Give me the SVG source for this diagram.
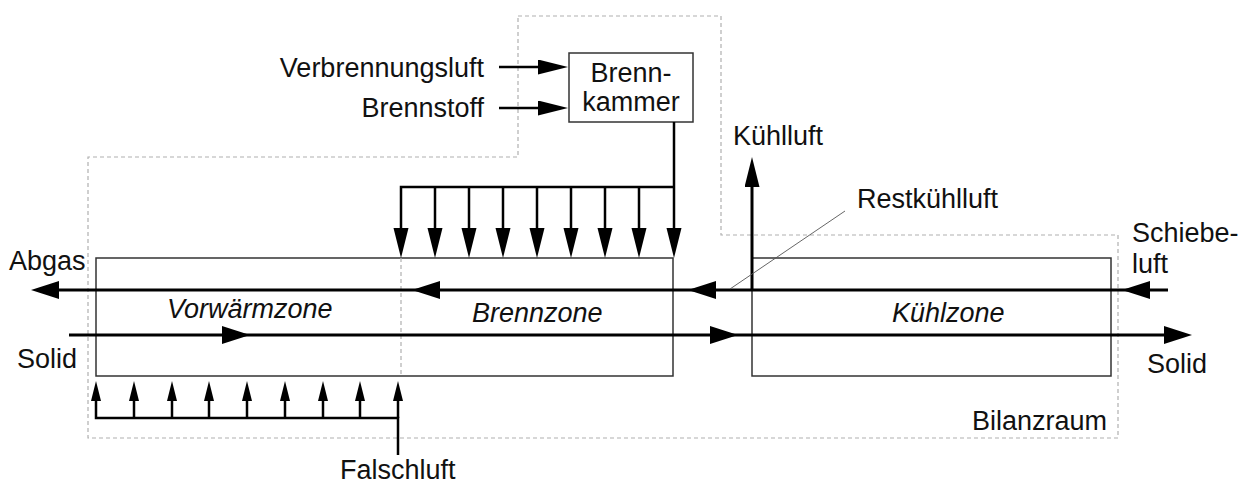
<svg xmlns="http://www.w3.org/2000/svg" width="1251" height="486" viewBox="0 0 1251 486">
<style>
text{font-family:"Liberation Sans",Arial,sans-serif;font-size:27px;fill:#111}
.it{font-style:italic}
.box{fill:none;stroke:#333;stroke-width:1.5}
.dash{fill:none;stroke:#b0b0b0;stroke-width:1.2;stroke-dasharray:4 3}
.f{fill:none;stroke:#000;stroke-width:3}
.fm{fill:none;stroke:#000;stroke-width:2.5}
.thin{fill:none;stroke:#555;stroke-width:0.9}
</style>
<defs>
<marker id="big" markerUnits="userSpaceOnUse" markerWidth="30" markerHeight="20" refX="18" refY="9" orient="auto"><path d="M0,0 L28,9 L0,18 Z" fill="#000"/></marker>
<marker id="dn" markerUnits="userSpaceOnUse" markerWidth="32" markerHeight="17" refX="20" refY="7.5" orient="auto"><path d="M0,0 L30,7.5 L0,15 Z" fill="#000"/></marker>
<marker id="up" markerUnits="userSpaceOnUse" markerWidth="22" markerHeight="12" refX="12" refY="5" orient="auto"><path d="M0,0 L20,5 L0,10 Z" fill="#000"/></marker>
</defs>
<g id="bilanzraum">
<path class="dash" d="M518 16 H721 V235 H1118 V438 H88 V157 H518 Z"/>
<text x="1107" y="430" text-anchor="end">Bilanzraum</text>
</g>
<g id="brennkammer">
<rect class="box" x="569" y="53" width="124" height="69"/>
<text x="631" y="82" text-anchor="middle">Brenn-</text>
<text x="631" y="111" text-anchor="middle">kammer</text>
</g>
<g id="vorwaermzone">
<path class="box" d="M401 258 H96 V376 H401"/>
<text class="it" x="167" y="318">Vorwärmzone</text>
</g>
<g id="brennzone">
<path class="box" d="M401 258 H673 V376 H401"/>
<line class="dash" x1="401" y1="258" x2="401" y2="376" stroke="#888"/>
<text class="it" x="472" y="322">Brennzone</text>
</g>
<g id="kuehlzone">
<rect class="box" x="752" y="258" width="359" height="118"/>
<text class="it" x="892" y="322">Kühlzone</text>
</g>
<g id="labels">
<text x="484" y="77" text-anchor="end">Verbrennungsluft</text>
<text x="484" y="117" text-anchor="end">Brennstoff</text>
<text x="733" y="145">Kühlluft</text>
<text x="857" y="208">Restkühlluft</text>
<text x="1132" y="242">Schiebe-</text>
<text x="1132" y="273">luft</text>
<text x="9" y="270">Abgas</text>
<text x="17" y="368">Solid</text>
<text x="1147" y="373">Solid</text>
<text x="340" y="479">Falschluft</text>
</g>
<g id="connectors">
<path class="fm" d="M499 67 H558" marker-end="url(#dn)"/>
<path class="fm" d="M499 108 H558" marker-end="url(#dn)"/>
<path class="f" d="M1168 290 H1132" marker-end="url(#big)"/>
<path class="f" d="M1132 290 H698" marker-end="url(#big)"/>
<path class="f" d="M698 290 H422" marker-end="url(#big)"/>
<path class="f" d="M422 290 H41" marker-end="url(#big)"/>
<path class="f" d="M69 335 H240" marker-end="url(#big)"/>
<path class="f" d="M240 335 H728" marker-end="url(#big)"/>
<path class="f" d="M728 335 H1182" marker-end="url(#big)"/>
<path class="f" d="M752 290 V167" marker-end="url(#dn)"/>
<path class="thin" d="M845 211 L730 289"/>
<path class="fm" d="M674 122 V248" marker-end="url(#dn)"/>
<path class="fm" d="M674 187 H401 V248" marker-end="url(#dn)"/>
<path class="fm" d="M435 187 V248" marker-end="url(#dn)"/>
<path class="fm" d="M469 187 V248" marker-end="url(#dn)"/>
<path class="fm" d="M503 187 V248" marker-end="url(#dn)"/>
<path class="fm" d="M537 187 V248" marker-end="url(#dn)"/>
<path class="fm" d="M571 187 V248" marker-end="url(#dn)"/>
<path class="fm" d="M605 187 V248" marker-end="url(#dn)"/>
<path class="fm" d="M639 187 V248" marker-end="url(#dn)"/>
<path class="fm" d="M398 455 V418 H96 V389" marker-end="url(#up)"/>
<path class="fm" d="M134 418 V389" marker-end="url(#up)"/>
<path class="fm" d="M172 418 V389" marker-end="url(#up)"/>
<path class="fm" d="M209 418 V389" marker-end="url(#up)"/>
<path class="fm" d="M247 418 V389" marker-end="url(#up)"/>
<path class="fm" d="M285 418 V389" marker-end="url(#up)"/>
<path class="fm" d="M323 418 V389" marker-end="url(#up)"/>
<path class="fm" d="M360 418 V389" marker-end="url(#up)"/>
<path class="fm" d="M398 418 V389" marker-end="url(#up)"/>
</g>
</svg>
